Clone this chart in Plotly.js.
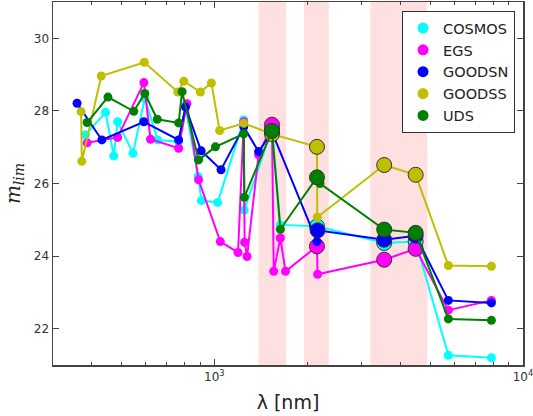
<!DOCTYPE html>
<html>
<head>
<meta charset="utf-8">
<script src="https://cdn.plot.ly/plotly-3.0.1.min.js"></script>
<style>html,body{margin:0;padding:0;background:#fff;}#chart{width:533px;height:416px;}</style>
</head>
<body>
<div id="chart"></div>
<script>
// Survey names (legend order)
var surveys = ["COSMOS", "EGS", "GOODSN", "GOODSS", "UDS"];
var colors = ["#00FFFF", "#FF00FF", "#0000FF", "#BFBF00", "#008000"];

// COSMOS
var cosmosX = [382, 444, 472, 486, 545, 595, 655, 766, 806, 886, 908, 1025, 1245, 1250, 1537, 1636, 2150, 3550, 4490, 5730, 7900];
var cosmosY = [27.34, 27.96, 26.76, 27.70, 26.83, 28.35, 27.20, 27.15, 28.10, 26.19, 25.53, 25.48, 27.75, 25.27, 27.50, 24.86, 24.82, 24.36, 24.40, 21.27, 21.20];
var cosmosBigX = [1537, 2150, 3550, 4490];
var cosmosBigY = [27.50, 24.82, 24.36, 24.40];

// EGS
var egsX = [387, 486, 591, 621, 766, 815, 889, 1045, 1193, 1245, 1253, 1276, 1391, 1537, 1557, 1636, 1700, 2150, 2160, 3550, 4490, 5730, 7900];
var egsY = [27.12, 27.27, 28.78, 27.22, 26.97, 28.20, 26.10, 24.40, 24.10, 27.70, 24.38, 23.99, 26.79, 27.62, 23.58, 24.50, 23.58, 24.27, 23.50, 23.90, 24.20, 22.51, 22.78];
var egsBigX = [1537, 2150, 3550, 4490];
var egsBigY = [27.62, 24.27, 23.90, 24.20];

// GOODSN
var goodsnX = [359, 432, 591, 766, 806, 906, 1051, 1245, 1391, 1537, 2150, 2160, 3550, 4490, 5730, 7900];
var goodsnY = [28.21, 27.20, 27.70, 27.20, 28.11, 26.90, 26.38, 27.56, 26.88, 27.42, 24.40, 24.71, 24.45, 24.56, 22.78, 22.71];
var goodsnBigX = [1537, 2160, 3550, 4490];
var goodsnBigY = [27.42, 24.71, 24.45, 24.56];

// GOODSS
var goodssX = [370, 372, 430, 593, 761, 796, 901, 978, 1040, 1245, 1537, 2150, 2155, 3550, 4490, 5730, 7900];
var goodssY = [27.98, 26.61, 28.96, 29.34, 28.52, 28.82, 28.52, 28.77, 27.46, 27.66, 27.36, 27.01, 25.07, 26.51, 26.24, 23.74, 23.72];
var goodssBigX = [1537, 2150, 3550, 4490];
var goodssBigY = [27.36, 27.01, 26.51, 26.24];

// UDS
var udsX = [387, 452, 548, 595, 653, 766, 786, 889, 1008, 1245, 1250, 1537, 1636, 2150, 2200, 3550, 4490, 5730, 7900];
var udsY = [27.68, 28.38, 27.99, 28.48, 27.77, 27.67, 28.53, 26.65, 27.01, 27.37, 25.62, 27.45, 24.74, 26.17, 26.00, 24.73, 24.64, 22.27, 22.23];
var udsBigX = [1537, 2150, 3550, 4490];
var udsBigY = [27.45, 26.17, 24.73, 24.64];

// Shaded wavelength bands (nm)
var bandLo = [1390, 1950, 3200];
var bandHi = [1710, 2350, 4900];

// X tick labels
var xTickVals = [1000, 10000];
var xTickText = ['10<sup>3</sup>', '10<sup>4</sup>'];

var seriesX = [cosmosX, egsX, goodsnX, goodssX, udsX];
var seriesY = [cosmosY, egsY, goodsnY, goodssY, udsY];
var bigX = [cosmosBigX, egsBigX, goodsnBigX, goodssBigX, udsBigX];
var bigY = [cosmosBigY, egsBigY, goodsnBigY, goodssBigY, udsBigY];

var traces = [];
for (var i = 0; i < surveys.length; i++) {
  traces.push({
    x: seriesX[i], y: seriesY[i], type: 'scatter', mode: 'lines+markers',
    line: {color: colors[i], width: 2},
    marker: {color: colors[i], size: 9, line: {width: 0}},
    showlegend: false, hoverinfo: 'skip'
  });
  traces.push({
    x: bigX[i], y: bigY[i], type: 'scatter', mode: 'markers',
    marker: {color: colors[i], size: 15, line: {color: '#333333', width: 1}},
    showlegend: false, hoverinfo: 'skip'
  });
}
for (var j = 0; j < surveys.length; j++) {
  traces.push({
    x: [null], y: [null], type: 'scatter', mode: 'markers', name: surveys[j],
    marker: {color: colors[j], size: 11}, showlegend: true
  });
}

var shapes = [];
for (var k = 0; k < bandLo.length; k++) {
  shapes.push({type: 'rect', xref: 'x', yref: 'paper', x0: bandLo[k], x1: bandHi[k], y0: 0, y1: 1,
    fillcolor: 'rgba(255,0,0,0.12)', line: {width: 0}, layer: 'below'});
}

var axisCol = '#444444';
var layout = {
  width: 533, height: 416,
  margin: {l: 53, r: 10, t: 2, b: 51},
  paper_bgcolor: '#ffffff', plot_bgcolor: '#ffffff',
  font: {family: 'DejaVu Sans', size: 12, color: '#333333'},
  showlegend: true,
  legend: {x: 0.983, y: 0.975, xanchor: 'right', yanchor: 'top',
    bgcolor: '#ffffff', bordercolor: '#333333', borderwidth: 1,
    font: {family: 'DejaVu Sans', size: 14.5, color: '#222222'},
    tracegroupgap: 0, itemwidth: 30},
  xaxis: {
    type: 'log', range: [Math.log10(300), 4],
    showgrid: false, zeroline: false,
    showline: true, linecolor: axisCol, linewidth: 1.5, mirror: 'ticks',
    ticks: 'inside', ticklen: 6, tickcolor: axisCol, tickwidth: 1,
    tickvals: xTickVals, ticktext: xTickText, ticklabeloverflow: 'allow',
    tickfont: {family: 'DejaVu Sans', size: 12, color: '#333333'},
    minor: {ticks: 'inside', ticklen: 3, tickcolor: axisCol, dtick: 'D1', showgrid: false},
    title: {text: 'λ [nm]', font: {family: 'DejaVu Sans', size: 19, color: '#222222'}, standoff: 13}
  },
  yaxis: {
    range: [21, 31], dtick: 2, tick0: 22,
    showgrid: false, zeroline: false,
    showline: true, linecolor: axisCol, linewidth: 1.5, mirror: 'ticks',
    ticks: 'inside', ticklen: 6, tickcolor: axisCol, tickwidth: 1,
    tickfont: {family: 'DejaVu Sans', size: 12, color: '#333333'},
    title: {text: '<i>m</i><sub><i>lim</i></sub>', font: {family: 'DejaVu Serif', size: 20, color: '#222222'}, standoff: 8}
  },
  shapes: shapes
};

Plotly.newPlot('chart', traces, layout, {displayModeBar: false, staticPlot: true});
</script>
</body>
</html>
